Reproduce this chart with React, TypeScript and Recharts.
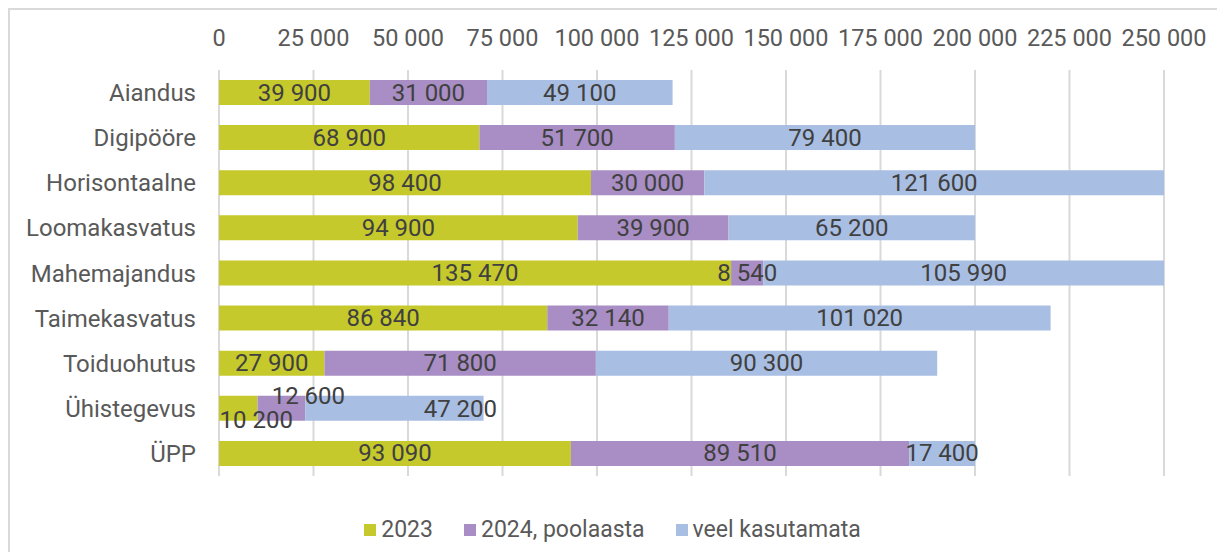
import React from "react";
import {
  BarChart,
  Bar,
  XAxis,
  YAxis,
  CartesianGrid,
  LabelList,
} from "recharts";

const categories = [
  "Aiandus",
  "Digipööre",
  "Horisontaalne",
  "Loomakasvatus",
  "Mahemajandus",
  "Taimekasvatus",
  "Toiduohutus",
  "Ühistegevus",
  "ÜPP",
];
const used2023 = [39900, 68900, 98400, 94900, 135470, 86840, 27900, 10200, 93090];
const used2024 = [31000, 51700, 30000, 39900, 8540, 32140, 71800, 12600, 89510];
const unused = [49100, 79400, 121600, 65200, 105990, 101020, 90300, 47200, 17400];
const xTicks = [0, 25000, 50000, 75000, 100000, 125000, 150000, 175000, 200000, 225000, 250000];

const series = [
  { key: "y2023", name: "2023", color: "#C5C92C" },
  { key: "y2024", name: "2024, poolaasta", color: "#A88EC4" },
  { key: "unused", name: "veel kasutamata", color: "#A9BEE3" },
];

// labels moved by hand in the original (Ühistegevus row is too short)
const labelNudge: Record<string, [number, number]> = {
  "y2023-7": [18, 12],
  "y2024-7": [27, -12],
  "unused-7": [66, 1],
};

const chartData = categories.map((name, i) => ({
  name,
  y2023: used2023[i],
  y2024: used2024[i],
  unused: unused[i],
}));

const fmt = (n: number) => String(n).replace(/\B(?=(\d{3})+(?!\d))/g, " ");

const FONT = "Roboto, sans-serif";

const makeLabel = (seriesKey: string) => (props: any) => {
  const { x, y, width, height, value, index } = props;
  const [dx, dy] = labelNudge[`${seriesKey}-${index}`] || [0, 0];
  return (
    <text
      x={Number(x) + Number(width) / 2 + dx}
      y={Number(y) + Number(height) / 2 + dy}
      textAnchor="middle"
      dominantBaseline="central"
      fill="#404040"
      fontSize={24}
      fontFamily={FONT}
    >
      {fmt(value)}
    </text>
  );
};

export default function App() {
  return (
    <div
      style={{
        position: "relative",
        width: 1209,
        height: 544,
        boxSizing: "border-box",
        borderTop: "2px solid #d9d9d9",
        borderLeft: "2px solid #d9d9d9",
        fontFamily: FONT,
      }}
    >
      <BarChart
        width={1207}
        height={542}
        data={chartData}
        layout="vertical"
        margin={{ top: 0, right: 53, bottom: 76, left: 0 }}
        barSize={25}
      >
        <CartesianGrid horizontal={false} stroke="#d9d9d9" strokeWidth={2} />
        <XAxis
          type="number"
          orientation="top"
          domain={[0, 250000]}
          ticks={xTicks}
          tickFormatter={fmt}
          height={60}
          axisLine={false}
          tickLine={false}
          tickSize={0}
          tickMargin={24}
          interval={0}
          tick={{ fill: "#595959", fontSize: 23.5, fontFamily: FONT }}
        />
        <YAxis
          type="category"
          dataKey="name"
          width={209}
          axisLine={false}
          tickLine={false}
          tickSize={0}
          tickMargin={23}
          interval={0}
          tick={{ fill: "#595959", fontSize: 24, fontFamily: FONT }}
        />
        {series.map((s) => (
          <Bar
            key={s.key}
            dataKey={s.key}
            name={s.name}
            stackId="a"
            fill={s.color}
            isAnimationActive={false}
          >
            <LabelList dataKey={s.key} content={makeLabel(s.key)} />
          </Bar>
        ))}
      </BarChart>
      <div
        style={{
          position: "absolute",
          top: 505,
          left: 0,
          width: "100%",
          display: "flex",
          justifyContent: "center",
          gap: 31,
          paddingRight: 2,
          boxSizing: "border-box",
          fontSize: 23,
          color: "#595959",
          lineHeight: "30px",
        }}
      >
        {series.map((s) => (
          <div key={s.key} style={{ display: "flex", alignItems: "center" }}>
            <span
              style={{
                width: 12,
                height: 12,
                background: s.color,
                marginRight: 5,
                display: "inline-block",
              }}
            />
            <span>{s.name}</span>
          </div>
        ))}
      </div>
    </div>
  );
}
